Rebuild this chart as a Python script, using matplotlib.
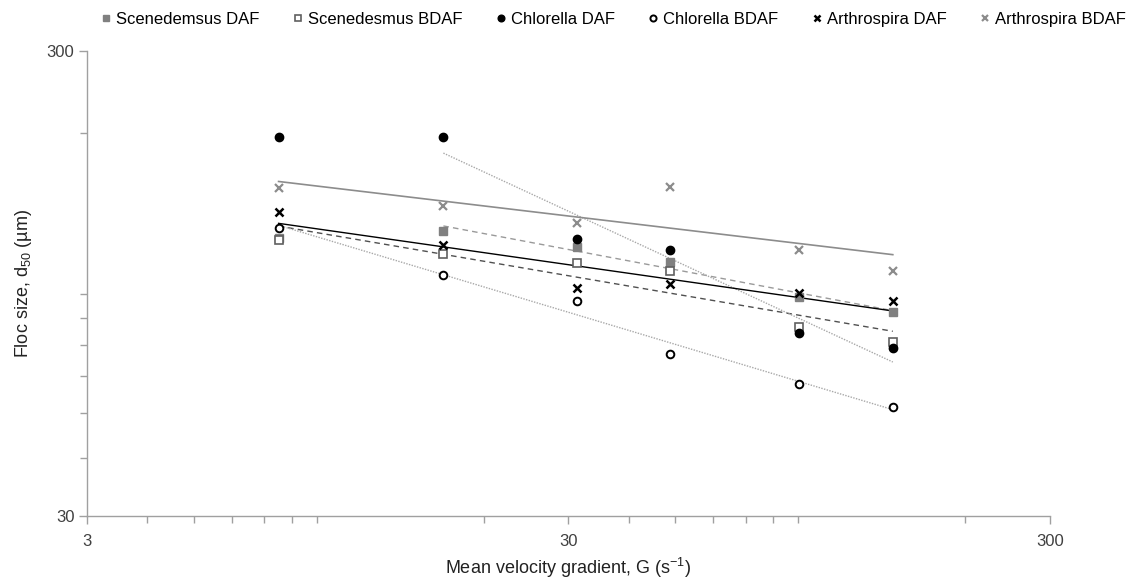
import numpy as np
import matplotlib
matplotlib.use("Agg")
import matplotlib.pyplot as plt
from matplotlib import font_manager
from matplotlib.ticker import LogLocator, NullFormatter, FixedLocator, FixedFormatter

# ---- data ----
G = [7.5, 16.5, 31.2, 48.7, 90.5, 141.6]
scen_daf = [119, 123, 113.7, 105.5, 88.6, 82.5]
scen_bdaf = [117.7, 110, 105, 101, 76.3, 71]
chl_daf = [196, 196, 118, 112, 74.4, 69]
chl_bdaf = [125, 99, 87, 67, 57.7, 51.4]
art_daf = [135, 115, 92.8, 94.5, 90.3, 87]
art_bdaf = [152, 139, 128, 153, 112, 101]
# first index used by each trendline
trend_start = {"Scenedemsus DAF": 1, "Scenedesmus BDAF": 0, "Chlorella DAF": 1,
               "Chlorella BDAF": 0, "Arthrospira DAF": 0, "Arthrospira BDAF": 0}
x_ticks = [3, 30, 300]
y_ticks = [30, 300]

names = [f.name for f in font_manager.fontManager.ttflist]
legend_font = "Liberation Sans Narrow" if "Liberation Sans Narrow" in names else "Liberation Sans"
plt.rcParams['font.family'] = ['Liberation Sans', 'DejaVu Sans']
plt.rcParams['mathtext.fontset'] = 'custom'
plt.rcParams['mathtext.rm'] = 'Liberation Sans'
plt.rcParams['mathtext.it'] = 'Liberation Sans'

fig = plt.figure(figsize=(11.3, 5.81), dpi=100)
ax = fig.add_axes([0.077, 0.112, 0.852, 0.800])

series = [
    ("Scenedemsus DAF", scen_daf, dict(marker='s', ms=5.5, mfc='#808080', mec='#808080', mew=1.0),
     dict(color='#9a9a9a', ls=(0, (4, 3)), lw=1.0)),
    ("Scenedesmus BDAF", scen_bdaf, dict(marker='s', ms=5.5, mfc='white', mec='#606060', mew=1.2),
     dict(color='#505050', ls=(0, (4, 3)), lw=1.0)),
    ("Chlorella DAF", chl_daf, dict(marker='o', ms=6, mfc='black', mec='black', mew=1.0),
     dict(color='#a8a8a8', ls=(0, (1, 1)), lw=1.0)),
    ("Chlorella BDAF", chl_bdaf, dict(marker='o', ms=5.5, mfc='white', mec='black', mew=1.4),
     dict(color='#a8a8a8', ls=(0, (1, 1)), lw=1.0)),
    ("Arthrospira DAF", art_daf, dict(marker='x', ms=5.5, mfc='black', mec='black', mew=1.8),
     dict(color='black', ls='-', lw=1.0)),
    ("Arthrospira BDAF", art_bdaf, dict(marker='x', ms=5.5, mfc='#8c8c8c', mec='#8c8c8c', mew=1.6),
     dict(color='#8c8c8c', ls='-', lw=1.2)),
]

handles = []
for name, vals, mk, ln in series:
    h, = ax.plot(G, vals, ls='none', label=name, zorder=3, **mk)
    handles.append(h)
    s = trend_start[name]
    lx = np.log10(G[s:])
    ly = np.log10(vals[s:])
    b, a = np.polyfit(lx, ly, 1)
    xs = np.array([G[s], G[-1]])
    ax.plot(xs, 10 ** (a + b * np.log10(xs)), zorder=2, **ln)

ax.set_xscale('log')
ax.set_yscale('log')
ax.set_xlim(3, 300)
ax.set_ylim(30, 300)

ax.xaxis.set_major_locator(FixedLocator(x_ticks))
ax.xaxis.set_major_formatter(FixedFormatter([str(v) for v in x_ticks]))
ax.yaxis.set_major_locator(FixedLocator(y_ticks))
ax.yaxis.set_major_formatter(FixedFormatter([str(v) for v in y_ticks]))
ax.xaxis.set_minor_locator(LogLocator(base=10, subs=np.arange(2, 10)))
ax.yaxis.set_minor_locator(LogLocator(base=10, subs=np.arange(2, 10)))
ax.xaxis.set_minor_formatter(NullFormatter())
ax.yaxis.set_minor_formatter(NullFormatter())

for sp in ['top', 'right']:
    ax.spines[sp].set_visible(False)
for sp in ['left', 'bottom']:
    ax.spines[sp].set_color('#a0a0a0')
    ax.spines[sp].set_linewidth(1.0)
ax.tick_params(which='both', direction='out', color='#a0a0a0', width=1.0)
ax.tick_params(which='major', length=6, labelsize=12, labelcolor='#404040')
ax.tick_params(axis='x', which='major', pad=7)
ax.tick_params(axis='y', which='major', pad=3)
ax.tick_params(which='minor', length=5)

ax.set_xlabel("Mean velocity gradient, G (s$^{\\mathregular{-1}}$)", fontsize=13, color='#222222', labelpad=5)
ax.set_ylabel("Floc size, d$_{\\mathregular{50}}$ (µm)", fontsize=13, color='#222222', labelpad=9)

leg = fig.legend(handles=handles, loc='upper center', bbox_to_anchor=(0.543, 1.005), ncol=6,
                 frameon=False, handlelength=0.6, handletextpad=0.3,
                 columnspacing=2.0, markerscale=0.8, prop={'family': legend_font, 'size': 12})

fig.savefig('out.png', dpi=100, facecolor='white')
